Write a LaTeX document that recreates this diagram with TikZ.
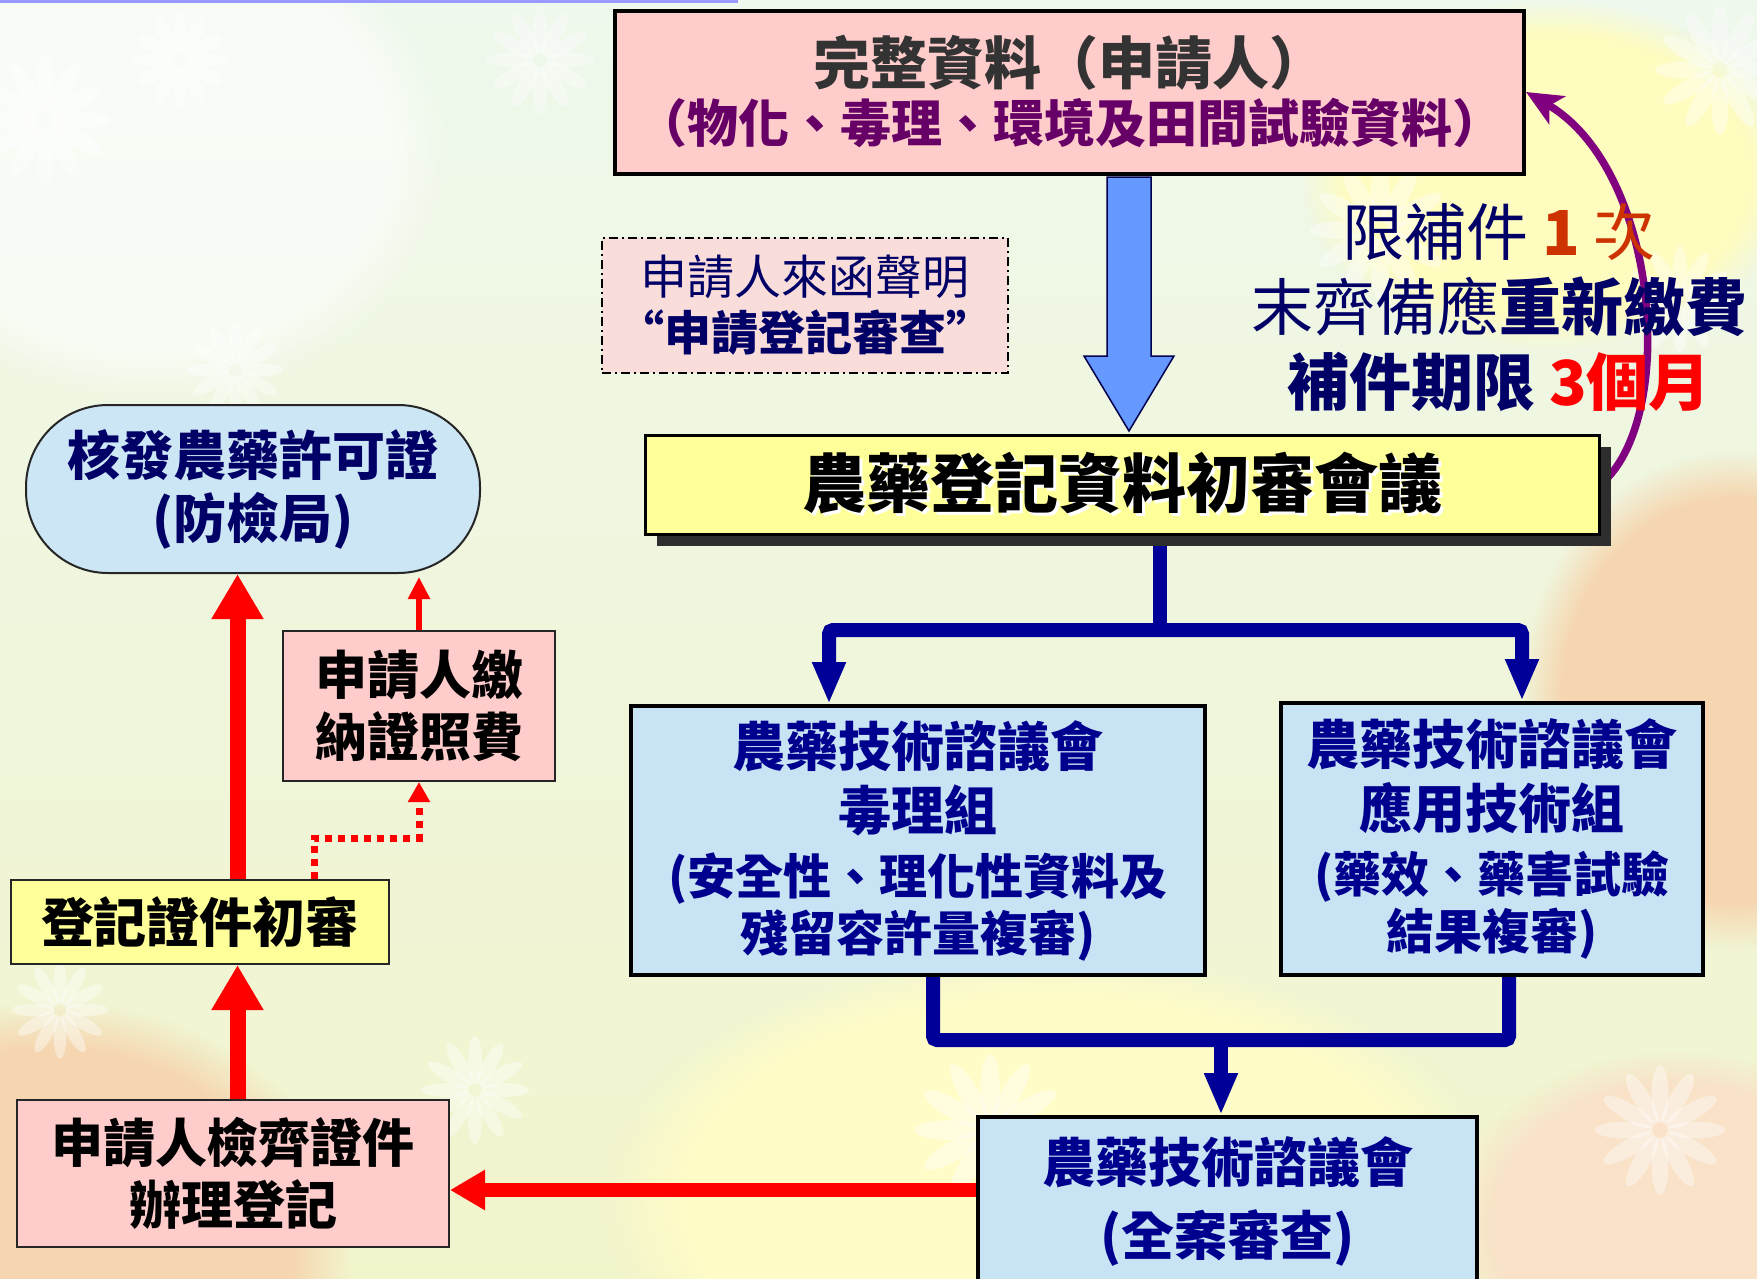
\documentclass[tikz,border=0pt]{standalone}
\usepackage{fontspec}
\setmainfont{Noto Sans CJK TC}
\usetikzlibrary{arrows.meta,calc,shadows,fadings}
\definecolor{navy}{HTML}{000066}
\definecolor{boxblue}{HTML}{00008F}
\definecolor{pinkfill}{HTML}{FFCCCC}
\definecolor{yellowfill}{HTML}{FFFF99}
\definecolor{bluefill}{HTML}{C7E3F4}
\definecolor{dashfill}{HTML}{F9DDDA}
\definecolor{arrowblue}{HTML}{6699FF}
\definecolor{treeblue}{HTML}{000099}
\definecolor{purp}{HTML}{800080}
\definecolor{purptext}{HTML}{660066}
\definecolor{orangered}{HTML}{CC3300}
\definecolor{darktext}{HTML}{333333}
\definecolor{bgmint}{HTML}{EEF8EC}
\definecolor{bgyellow}{HTML}{F2F4CC}
\definecolor{bgpeach}{HTML}{F6D6B0}
\newcommand\halotext[1]{\makebox[0pt][l]{\hspace{3pt}\raisebox{-3pt}{\color{white}#1}}#1}
\pgfdeclarelayer{bg}
\pgfsetlayers{bg,main}
\begin{document}
\begin{tikzpicture}[x=1pt,y=-1pt,
  flower/.pic={\foreach \a in {0,30,...,330}{\fill[white,opacity=0.4,rotate=\a] (0,30) ellipse (7 and 24);}},
  blob/.style={path fading=circle with fuzzy edge 20 percent},
  topbox/.style={draw=black,line width=4,fill=pinkfill,minimum width=909,minimum height=163,inner sep=0,align=center,font=\fontsize{51}{60}\selectfont\bfseries},
  dashbox/.style={draw=black,line width=2,dash pattern=on 9pt off 4pt on 2pt off 4pt,fill=dashfill,minimum width=406,minimum height=135,inner sep=0,align=center,text=navy,font=\fontsize{47}{56}\selectfont},
  ybox/.style={draw=black,line width=3,fill=yellowfill,inner sep=0,align=center,font=\fontsize{64}{70}\selectfont\bfseries},
  bbox/.style={draw=black,line width=4,fill=bluefill,inner sep=0,align=center,text=boxblue,font=\fontsize{53}{64}\selectfont\bfseries},
  pbox/.style={draw=black!85,line width=2,fill=pinkfill,inner sep=0,align=center,font=\fontsize{52}{62}\selectfont\bfseries},
  tree/.style={draw=treeblue,line width=14,rounded corners=4},
  treearrow/.style={tree,-{Triangle[length=42pt,width=31pt]}},
  redbig/.style={draw=red,line width=16,-{Triangle[length=45pt,width=49pt]}},
  redthin/.style={draw=red,line width=6,-{Triangle[length=22pt,width=21pt]}},
  reddot/.style={draw=red,line width=7,dash pattern=on 7pt off 6pt,-{Triangle[length=20pt,width=21pt]}},
  purparc/.style={draw=purp,line width=7.5,-{Stealth[length=36pt,width=32pt,inset=9pt]}}
]
\useasboundingbox (0,0) rectangle (1757,1278);

% ---------- nodes ----------
\node[topbox] (top) at (1069.5,92) {{\fontsize{57}{60}\selectfont\color{darktext}完整資料（申請人）}\\[-2pt]{\color{purptext}（物化、毒理、環境及田間試驗資料）}};

\node[dashbox] (decl) at (805,305.5) {申請人來函聲明\\{\bfseries “申請登記審查”}};

\node[align=center,text=navy,font=\fontsize{62}{75}\selectfont] (note) at (1499,308)
  {限補件 {\color{orangered}\textbf{1} 次}\\末齊備應{\bfseries 重新繳費}\\{\bfseries 補件期限 {\color{red}3個月}}};

\node[ybox,minimum width=954,minimum height=99,
  drop shadow={shadow xshift=12pt,shadow yshift=-12pt,fill=black!82,opacity=1}] (prelim) at (1122,484.5)
  {\halotext{農藥登記資料初審會議}};

\node[bbox,minimum width=574,minimum height=269] (tox) at (918,840.5)
  {農藥技術諮議會\\毒理組\\{\fontsize{48}{57}\selectfont (安全性、理化性資料及}\\[-7pt]{\fontsize{48}{57}\selectfont 殘留容許量複審)}};

\node[bbox,minimum width=422,minimum height=272] (app) at (1492,839)
  {農藥技術諮議會\\應用技術組\\{\fontsize{48}{57}\selectfont (藥效、藥害試驗}\\[-7pt]{\fontsize{48}{57}\selectfont 結果複審)}};

\node[bbox,minimum width=499,minimum height=169] (full) at (1227.5,1201.5)
  {農藥技術諮議會\\[9pt](全案審查)};

\node[pbox,minimum width=432,minimum height=147] (apply) at (233,1173.5)
  {申請人檢齊證件\\辦理登記};

\node[ybox,draw=black!85,line width=2,minimum width=378,minimum height=84,font=\fontsize{53}{62}\selectfont\bfseries] (init) at (200,922)
  {登記證件初審};

\node[pbox,minimum width=272,minimum height=150] (fee) at (419,706)
  {申請人繳\\納證照費};

\node[draw=black!85,line width=2,fill=bluefill!90!white,rounded corners=82,minimum width=454,minimum height=168,inner sep=0,align=center,text=navy,font=\fontsize{53}{63}\selectfont\bfseries] (pill) at (253,489)
  {核發農藥許可證\\(防檢局)};

% ---------- background and connectors ----------
\begin{pgfonlayer}{bg}
  \shade[top color=bgmint,bottom color=bgyellow] (0,0) rectangle (1757,1278);
  \fill[bgpeach,blob] (-250,1000) rectangle (350,1500);
  \fill[bgpeach,blob] (1520,450) rectangle (1950,950);
  \fill[yellow!22,blob] (600,950) rectangle (1500,1450);
  \fill[bgpeach!70,blob] (1450,1050) rectangle (1900,1400);
  \fill[yellow!25,blob] (1300,0) rectangle (1800,350);
  \fill[white,blob,opacity=0.6] (-150,-100) rectangle (450,400);
  \fill[blue!40!white] (0,0) rectangle (738,3);
  \foreach \p/\s in {{(45,120)}/1.2,{(180,60)}/0.9,{(540,60)}/1,{(235,370)}/0.9,{(1720,70)}/1.2,{(1680,300)}/1,{(475,1090)}/1,{(990,1130)}/1.4,{(1660,1130)}/1.2,{(1640,790)}/1,{(60,1010)}/0.9,{(1380,230)}/1.3}
    \pic[scale=\s] at \p {flower};

  % blue block arrow from top box to preliminary meeting
  \draw[draw=black!70!blue,line width=1.5,fill=arrowblue]
    (1107,177) -- (1151,177) -- (1151,356) -- (1174,356) -- (1129,431) -- (1084,356) -- (1107,356) -- cycle;

  % purple return arc
  \draw[purparc] (prelim.east) .. controls (1678,420) and (1660,170) .. (top.east);

  % navy tree to the two groups
  \coordinate (split) at (1160,630);
  \draw[tree] (split |- prelim.south) -- (split);
  \draw[treearrow] (split) -| ([xshift=-89pt]tox.north);
  \draw[treearrow] (split) -| ([xshift=30pt]app.north);

  % navy join to full review
  \coordinate (join) at (1221,1040);
  \draw[tree] ([xshift=15pt]tox.south) |- (join) -| ([xshift=17pt]app.south);
  \draw[treearrow] (join) -- (join |- full.north);

  % red arrows
  \coordinate (ry) at (0,1190);
  \draw[draw=red,line width=14,-{Triangle[length=35pt,width=38pt]}] (full.west |- ry) -- (apply.east |- ry);
  \coordinate (rx) at (237.5,0);
  \draw[redbig] (rx |- apply.north) -- (rx |- init.south);
  \draw[redbig] (rx |- init.north) -- (rx |- pill.south);
  \coordinate (dx) at (314,838);
  \draw[reddot] (dx |- init.north) -- (dx) -| (fee.south);
  \draw[redthin] (fee.north) -- ([yshift=-3pt]fee.north |- pill.south);
\end{pgfonlayer}
\end{tikzpicture}
\end{document}
